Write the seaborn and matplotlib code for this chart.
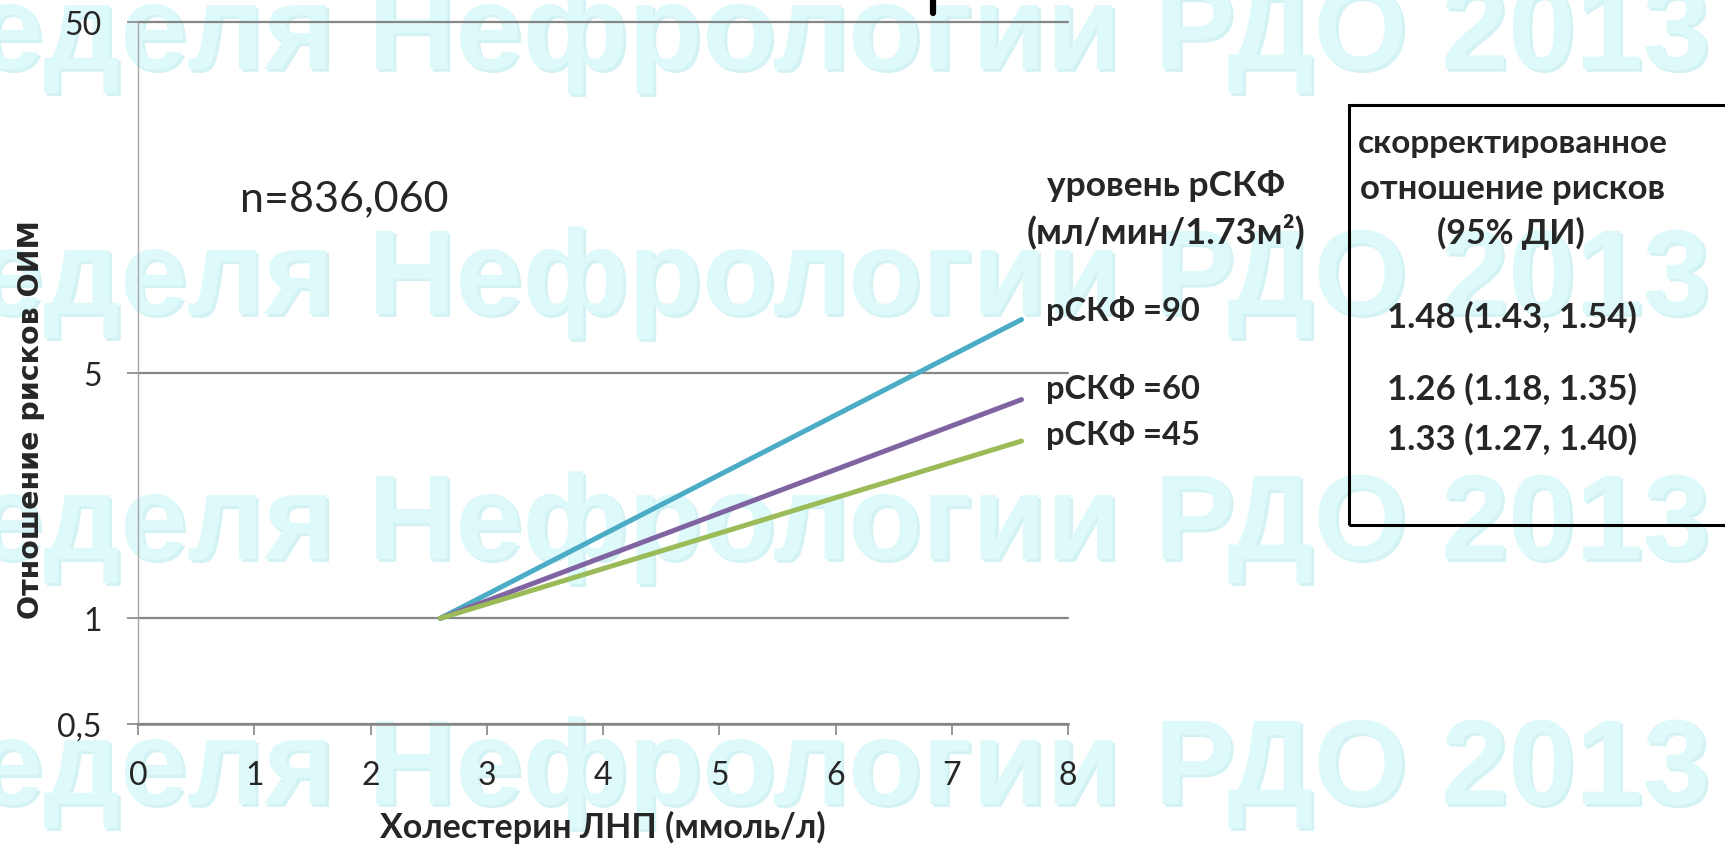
import matplotlib
matplotlib.use("Agg")
import matplotlib.pyplot as plt
import matplotlib.patheffects as pe
from matplotlib.patches import Rectangle
from matplotlib.lines import Line2D
import pandas as pd
import seaborn as sns

# ------------------------------------------------------------------
# Data
# ------------------------------------------------------------------
ldl = [2.6, 7.6]
hr_gfr90 = [1.0, 7.1]
hr_gfr60 = [1.0, 4.2]
hr_gfr45 = [1.0, 3.2]

series_names = ["рСКФ =90", "рСКФ =60", "рСКФ =45"]
series_colors = ["#4bacc6", "#8064a2", "#9bbb59"]

ci_labels = ["1.48 (1.43, 1.54)", "1.26 (1.18, 1.35)", "1.33 (1.27, 1.40)"]

y_ticks = [0.5, 1, 5, 50]
y_tick_labels = ["0,5", "1", "5", "50"]
x_ticks = list(range(0, 9))

watermark = "Неделя Нефрологии РДО 2013"

df = pd.DataFrame({
    "ldl": ldl * 3,
    "hr": hr_gfr90 + hr_gfr60 + hr_gfr45,
    "group": [n for n in series_names for _ in ldl],
})

# ------------------------------------------------------------------
# Figure
# ------------------------------------------------------------------
sns.set_theme(style="white")
plt.rcParams["font.family"] = ["Lato", "Open Sans", "DejaVu Sans"]

W, H = 1725, 845
fig = plt.figure(figsize=(W / 100, H / 100), dpi=100)
fig.patch.set_facecolor("white")


def fx(x):
    return x / W


def fy(y):
    return 1 - y / H


# watermark rows, kept behind the chart
for base in [70, 315, 560, 805]:
    fig.text(
        fx(1711), fy(base), watermark,
        fontsize=87, fontweight="bold", family=["Liberation Sans", "DejaVu Sans"],
        color="#ddf9fa", ha="right", va="baseline", zorder=-10,
        path_effects=[
            pe.withSimplePatchShadow(offset=(2, -2), shadow_rgbFace="#d3f2f3", alpha=1.0),
        ],
    )

ax = fig.add_axes([fx(138), fy(725), fx(1068) - fx(138), fy(23) - fy(725)])
ax.set_zorder(1)
ax.patch.set_alpha(0)

sns.lineplot(
    data=df, x="ldl", y="hr", hue="group",
    palette=dict(zip(series_names, series_colors)),
    linewidth=3.6, legend=False, ax=ax, zorder=3,
)

ax.set_yscale("log")
ax.set_ylim(0.5, 50)
ax.set_xlim(0, 8)
ax.set_yticks(y_ticks)
ax.set_yticklabels(y_tick_labels)
ax.yaxis.set_minor_locator(matplotlib.ticker.NullLocator())
ax.set_xticks(x_ticks)
ax.set_xticklabels([str(t) for t in x_ticks])

ax.yaxis.grid(True, which="major", color="#868686", linewidth=1.6)
ax.xaxis.grid(False)
for gl in ax.yaxis.get_gridlines():
    gl.set_clip_on(False)

for side in ["top", "right"]:
    ax.spines[side].set_visible(False)
ax.spines["left"].set_color("#a6a6a6")
ax.spines["left"].set_linewidth(1.0)
ax.spines["bottom"].set_color("#868686")
ax.spines["bottom"].set_linewidth(1.8)

ax.tick_params(axis="x", direction="out", length=8, width=1.2, color="#868686",
               pad=18, labelsize=23, bottom=True)
ax.tick_params(axis="y", direction="out", length=8, width=1.2, color="#868686",
               pad=18, labelsize=23, left=True)

ax.set_xlabel("")
ax.set_ylabel("")

fig.text(fx(603), fy(827), "Холестерин ЛНП (ммоль/л)", fontsize=24.5,
         fontweight="bold", ha="center", va="center")
fig.text(fx(31), fy(420), "Отношение рисков ОИМ", fontsize=20.5,
         fontweight="bold", family=["DejaVu Sans"], rotation=90,
         ha="center", va="center")

fig.text(fx(240), fy(199), "n=836,060", fontsize=31, ha="left", va="center")

# series labels
fig.text(fx(1166), fy(186), "уровень рСКФ", fontsize=25.5, fontweight="bold",
         ha="center", va="center")
fig.text(fx(1166), fy(231), "(мл/мин/1.73м²)", fontsize=26, fontweight="bold",
         ha="center", va="center")
for name, y in zip(series_names, [311, 389, 435]):
    fig.text(fx(1046), fy(y), name, fontsize=23.5, fontweight="bold",
             ha="left", va="center")

# hazard ratio box
fig.add_artist(Rectangle((fx(1349), fy(526)), fx(1735) - fx(1349), fy(106) - fy(526),
                         transform=fig.transFigure, fill=False,
                         edgecolor="black", linewidth=2.2, clip_on=False))
fig.text(fx(1513), fy(144), "скорректированное", fontsize=24, fontweight="bold",
         ha="center", va="center")
fig.text(fx(1512), fy(189), "отношение рисков", fontsize=25, fontweight="bold",
         ha="center", va="center")
fig.text(fx(1511), fy(233), "(95% ДИ)", fontsize=24.5, fontweight="bold",
         ha="center", va="center")
for lab, y in zip(ci_labels, [317, 389, 439]):
    fig.text(fx(1512), fy(y), lab, fontsize=25, fontweight="bold",
             ha="center", va="center")

# bit of a cut-off title glyph at the top edge
fig.add_artist(Line2D([fx(933), fx(933)], [fy(0), fy(14)], color="black",
                      linewidth=4.5, transform=fig.transFigure))

fig.savefig("out.png", dpi=100)
